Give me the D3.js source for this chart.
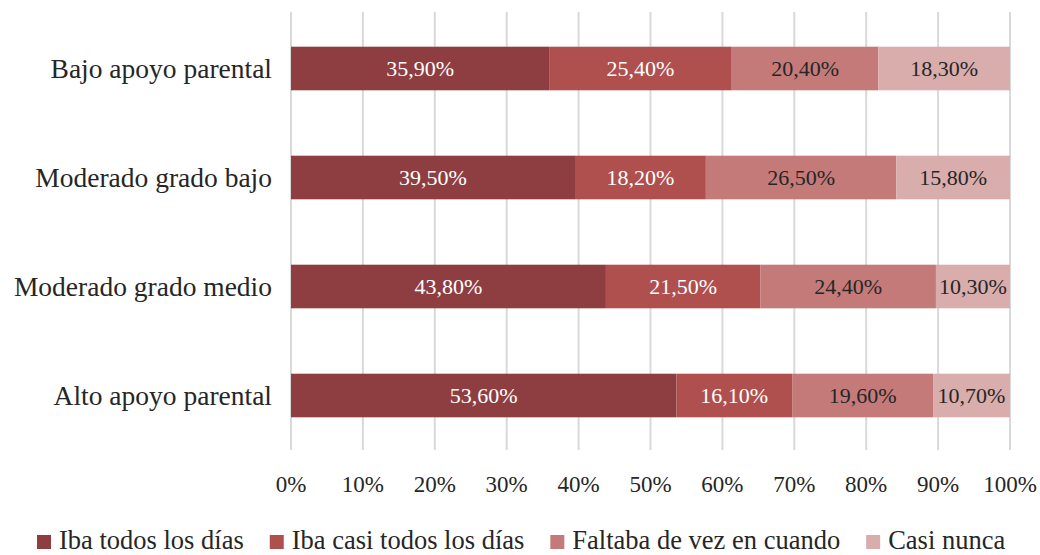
<!DOCTYPE html>
<html>
<head>
<meta charset="utf-8">
<script src="https://cdn.jsdelivr.net/npm/d3@7"></script>
<style>
  body { margin: 0; background: #fff; }
  text { font-family: "Liberation Serif", "DejaVu Serif", serif; }
</style>
</head>
<body>
<script>
// data
const categories = ['Bajo apoyo parental', 'Moderado grado bajo', 'Moderado grado medio', 'Alto apoyo parental'];
const series = ['Iba todos los días', 'Iba casi todos los días', 'Faltaba de vez en cuando', 'Casi nunca'];
const todos = [35.9, 39.5, 43.8, 53.6];
const casiTodos = [25.4, 18.2, 21.5, 16.1];
const faltaba = [20.4, 26.5, 24.4, 19.6];
const casiNunca = [18.3, 15.8, 10.3, 10.7];
const ticks = [0, 10, 20, 30, 40, 50, 60, 70, 80, 90, 100];

const colors = ['#8e3e41', '#af504e', '#c47a79', '#d9adac'];
const labelColors = ['#fff', '#fff', '#262626', '#262626'];

let width = 1040, height = 555;
let plotLeft = 291, plotRight = 1010, plotTop = 14, plotBottom = 450;

let rows = categories.map((c, i) => ({cat: c, vals: [todos[i], casiTodos[i], faltaba[i], casiNunca[i]]}));

let xScale = d3.scaleLinear([0, 100], [plotLeft, plotRight]),
    yScale = d3.scaleBand(categories, [plotTop, plotBottom]).paddingInner(0.6).paddingOuter(0.3);

let svg = d3.select('body').append('svg').attr('width', width).attr('height', height);

// gridlines
svg.append('g').selectAll('line')
    .data(ticks)
    .join('line')
    .attr('x1', d => xScale(d)).attr('x2', d => xScale(d))
    .attr('y1', plotTop - 2).attr('y2', plotBottom)
    .style('stroke', '#d9d9d9')
    .style('stroke-width', '2px');

// bars
let segs = [];
rows.forEach(r => {
    let acc = 0;
    r.vals.forEach((v, k) => { segs.push({cat: r.cat, k, x0: acc, x1: acc + v, v}); acc += v; });
});

let chart = svg.append('g');
chart.selectAll('rect')
    .data(segs)
    .join('rect')
    .attr('x', d => xScale(d.x0))
    .attr('width', d => xScale(Math.min(d.x1, 100)) - xScale(d.x0))
    .attr('y', d => yScale(d.cat))
    .attr('height', yScale.bandwidth())
    .style('fill', d => colors[d.k]);

let fmt = v => v.toFixed(2).replace('.', ',') + '%';
chart.selectAll('text')
    .data(segs)
    .join('text')
    .attr('x', d => (xScale(d.x0) + xScale(Math.min(d.x1, 100))) / 2)
    .attr('y', d => yScale(d.cat) + yScale.bandwidth() / 2)
    .attr('dy', '0.35em')
    .attr('text-anchor', 'middle')
    .style('font-size', '22px')
    .style('fill', d => labelColors[d.k])
    .text(d => fmt(d.v));

// category labels
svg.append('g').selectAll('text')
    .data(categories)
    .join('text')
    .attr('x', 272)
    .attr('y', d => yScale(d) + yScale.bandwidth() / 2)
    .attr('dy', '0.33em')
    .attr('text-anchor', 'end')
    .style('font-size', '27.5px')
    .style('fill', '#262626')
    .text(d => d);

// x tick labels
svg.append('g').selectAll('text')
    .data(ticks)
    .join('text')
    .attr('x', d => xScale(d))
    .attr('y', 484)
    .attr('dy', '0.35em')
    .attr('text-anchor', 'middle')
    .style('font-size', '23px')
    .style('fill', '#262626')
    .text(d => d + '%');

// legend
let legend = svg.append('g');
let lx = 37;
series.forEach((s, k) => {
    let g = legend.append('g').attr('transform', `translate(${lx},541)`);
    g.append('rect').attr('x', 0).attr('y', -6).attr('width', 14).attr('height', 14).style('fill', colors[k]);
    let t = g.append('text').attr('x', 22).attr('y', 0).attr('dy', '0.3em')
        .style('font-size', '26.5px').style('fill', '#262626').text(s);
    lx += 22 + t.node().getComputedTextLength() + 26;
});
</script>
</body>
</html>
